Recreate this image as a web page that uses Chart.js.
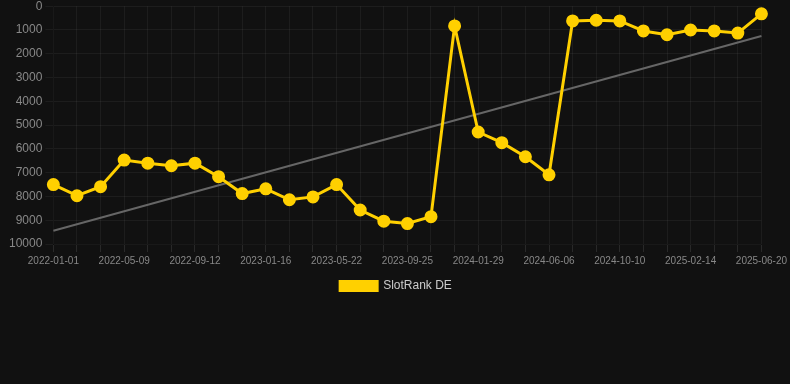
<!DOCTYPE html>
<html>
<head>
<meta charset="utf-8">
<script src="https://cdn.jsdelivr.net/npm/chart.js@4/dist/chart.umd.min.js"></script>
<style>
  html, body { margin: 0; padding: 0; background: #111111; overflow: hidden; }
  #wrap { width: 790px; height: 388px; margin-top: -4px; position: relative; }
</style>
</head>
<body>
<div id="wrap"><canvas id="myChart"></canvas></div>
<script>
// Fechas (solo se ve una de cada tres en el eje)
const labels = [
    '2022-01-01', '2022-02-12', '2022-03-26', '2022-05-09', '2022-06-20', '2022-08-01',
    '2022-09-12', '2022-10-24', '2022-12-05', '2023-01-16', '2023-02-27', '2023-04-10',
    '2023-05-22', '2023-07-03', '2023-08-14', '2023-09-25', '2023-11-06', '2023-12-18',
    '2024-01-29', '2024-03-11', '2024-04-24', '2024-06-06', '2024-07-18', '2024-08-29',
    '2024-10-10', '2024-11-21', '2025-01-02', '2025-02-14', '2025-03-28', '2025-05-09',
    '2025-06-20'
];

// Ranking (eje invertido)
const rankDE = [
    7500, 7970, 7590, 6470, 6600, 6710,
    6600, 7170, 7880, 7680, 8140, 8020,
    7500, 8570, 9040, 9140, 8850, 830,
    5290, 5740, 6330, 7090, 620, 590,
    620, 1040, 1200, 1000, 1040, 1130,
    320
];

// Linea de tendencia: inicio y fin
const trendEnds = [9440, 1250];

const yTicks = [0, 1000, 2000, 3000, 4000, 5000, 6000, 7000, 8000, 9000, 10000];

document.addEventListener('DOMContentLoaded', () => {
    const ctx = document.getElementById('myChart').getContext('2d');

    const myChart = new Chart(ctx, {
        type: 'line',
        data: {
            labels: labels,
            datasets: [{
                label: 'SlotRank DE',
                data: rankDE,
                borderColor: '#ffd000',
                backgroundColor: '#ffd000',
                borderWidth: 3,
                pointRadius: 5,
                pointHoverRadius: 6,
                tension: 0
            }, {
                label: 'trend',
                data: [
                    { x: labels[0], y: trendEnds[0] },
                    { x: labels[labels.length - 1], y: trendEnds[1] }
                ],
                borderColor: '#666666',
                borderWidth: 2,
                pointRadius: 0,
                tension: 0
            }]
        },
        options: {
            responsive: true,
            maintainAspectRatio: false,
            animation: false,
            layout: { padding: { top: 0, right: 4, bottom: 82, left: 6 } },
            plugins: {
                legend: {
                    position: 'bottom',
                    labels: {
                        color: '#cccccc',
                        boxWidth: 37,
                        boxHeight: 9,
                        font: { size: 12, family: 'Liberation Sans, Arial, sans-serif' },
                        filter: item => item.text !== 'trend'
                    }
                },
                tooltip: { enabled: false }
            },
            scales: {
                x: {
                    grid: { color: 'rgba(255,255,255,0.05)', tickColor: 'rgba(255,255,255,0.1)' },
                    ticks: {
                        color: '#888888',
                        autoSkip: false,
                        maxRotation: 0,
                        font: { size: 10, family: 'Liberation Sans, Arial, sans-serif' },
                        callback: function (value, index) {
                            return index % 3 === 0 ? labels[index] : '';
                        }
                    }
                },
                y: {
                    reverse: true,
                    min: yTicks[0],
                    max: yTicks[yTicks.length - 1],
                    grid: { color: 'rgba(255,255,255,0.05)', tickColor: 'rgba(255,255,255,0.05)' },
                    ticks: {
                        color: '#888888',
                        stepSize: 1000,
                        font: { size: 12, family: 'Liberation Sans, Arial, sans-serif' },
                        callback: value => String(value)
                    }
                }
            }
        }
    });
});
</script>
</body>
</html>
